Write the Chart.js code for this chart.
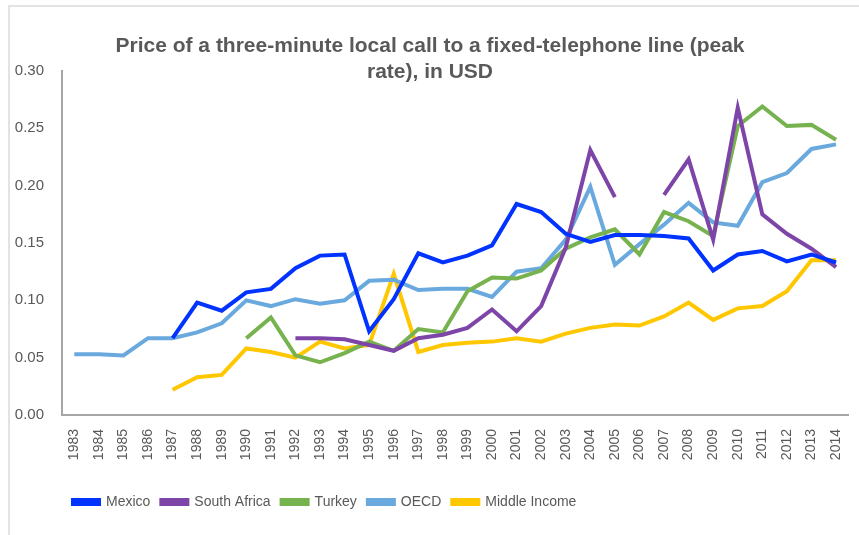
<!DOCTYPE html>
<html>
<head>
<meta charset="utf-8">
<script src="https://cdn.jsdelivr.net/npm/chart.js"></script>
<style>
  body { margin: 0; background: #fff; }
  #wrap {
    position: relative;
    width: 859px;
    height: 535px;
  }
  /* light frame, only top and left edges show in the crop */
  #frame {
    position: absolute;
    left: 8px;
    top: 5px;
    right: -10px;
    bottom: -10px;
    border-top: 2px solid #e3e3e3;
    border-left: 2px solid #e3e3e3;
  }
  canvas { position: absolute; left: 0; top: 0; }
</style>
</head>
<body>
<div id="wrap">
  <div id="frame"></div>
  <canvas id="priceChart" width="859" height="535"></canvas>
</div>
<script>
const years = ['1983','1984','1985','1986','1987','1988','1989','1990','1991','1992','1993','1994','1995','1996','1997','1998','1999','2000','2001','2002','2003','2004','2005','2006','2007','2008','2009','2010','2011','2012','2013','2014'];

const mexico = [null,null,null,null,0.067,0.098,0.091,0.107,0.110,0.128,0.139,0.140,0.073,0.101,0.141,0.133,0.139,0.148,0.184,0.177,0.158,0.151,0.157,0.157,0.156,0.154,0.126,0.140,0.143,0.134,0.140,0.133];
const southAfrica = [null,null,null,null,null,null,null,null,null,0.067,0.067,0.066,0.061,0.056,0.067,0.070,0.076,0.092,0.073,0.095,0.146,0.231,0.190,null,0.192,0.223,0.153,0.268,0.175,0.158,0.145,0.129];
const turkey = [null,null,null,null,null,null,null,0.067,0.085,0.052,0.046,0.054,0.064,0.056,0.075,0.072,0.108,0.120,0.119,0.126,0.145,0.155,0.162,0.140,0.177,0.169,0.156,0.252,0.269,0.252,0.253,0.240];
const oecd = [0.053,0.053,0.052,0.067,0.067,0.072,0.080,0.100,0.095,0.101,0.097,0.100,0.117,0.118,0.109,0.110,0.110,0.103,0.125,0.128,0.153,0.199,0.131,0.149,0.166,0.185,0.168,0.165,0.203,0.211,0.232,0.236];
const middleIncome = [null,null,null,null,0.022,0.033,0.035,0.058,0.055,0.050,0.064,0.058,0.061,0.123,0.055,0.061,0.063,0.064,0.067,0.064,0.071,0.076,0.079,0.078,0.086,0.098,0.083,0.093,0.095,0.108,0.135,0.135];

const titleLines = ['Price of a three-minute local call to a fixed-telephone line (peak', 'rate), in USD'];

const FONT = "'Liberation Sans', Arial, sans-serif";
const TEXT = '#595959';

// title sits partly over the plot area, so draw it by hand
const titlePlugin = {
  id: 'overlapTitle',
  afterDraw(chart) {
    const ctx = chart.ctx;
    ctx.save();
    ctx.fillStyle = TEXT;
    ctx.font = 'bold 21px ' + FONT;
    ctx.textAlign = 'center';
    ctx.textBaseline = 'middle';
    ctx.fillText(titleLines[0], 430, 46);
    ctx.fillText(titleLines[1], 430, 72);
    ctx.restore();
  }
};

function line(label, data, color) {
  return {
    label: label,
    data: data,
    borderColor: color,
    backgroundColor: color,
    borderWidth: 4,
    pointRadius: 0,
    pointHoverRadius: 0,
    tension: 0,
    spanGaps: false
  };
}

new Chart(document.getElementById('priceChart'), {
  type: 'line',
  data: {
    labels: years,
    datasets: [
      line('Mexico', mexico, '#0033FF'),
      line('South Africa', southAfrica, '#7E45A8'),
      line('Turkey', turkey, '#76B24D'),
      line('OECD', oecd, '#69A9DD'),
      line('Middle Income', middleIncome, '#FFC700')
    ]
  },
  options: {
    responsive: false,
    animation: false,
    layout: { padding: { top: 71, right: 10, left: 0, bottom: 16 } },
    plugins: {
      title: { display: false },
      tooltip: { enabled: false },
      legend: {
        position: 'bottom',
        align: 'start',
        fullSize: false,
        labels: {
          boxWidth: 26,
          boxHeight: 4,
          padding: 11,
          color: TEXT,
          font: { family: FONT, size: 14 }
        }
      }
    },
    scales: {
      x: {
        offset: true,
        grid: { display: false },
        border: { display: true, color: '#a6a6a6', width: 2 },
        ticks: {
          color: TEXT,
          minRotation: 90,
          maxRotation: 90,
          autoSkip: false,
          padding: 6,
          font: { family: FONT, size: 14 }
        },
        afterFit(scale) { scale.height = 69; }
      },
      y: {
        min: 0,
        max: 0.3,
        grid: { display: false },
        border: { display: true, color: '#a6a6a6', width: 2 },
        ticks: {
          stepSize: 0.05,
          color: TEXT,
          padding: 10,
          font: { family: FONT, size: 15 },
          callback: v => v.toFixed(2)
        },
        afterFit(scale) { scale.width = 62; }
      }
    }
  },
  plugins: [titlePlugin]
});
</script>
</body>
</html>
